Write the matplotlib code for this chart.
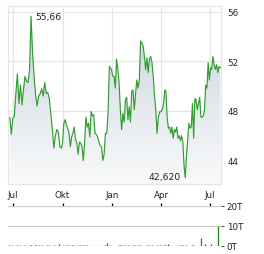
import matplotlib
matplotlib.use("Agg")
import matplotlib.pyplot as plt
import matplotlib.dates as mdates
from matplotlib.colors import LinearSegmentedColormap
import numpy as np
import pandas as pd

# closing prices, one list per quarter
q3_2023 = [47.48, 46.12, 47.4, 47.6, 49.44, 51.0, 48.6, 50.1, 48.5, 49.7, 50.8, 50.4,
           50.3, 51.35, 55.66, 52.7, 50.8, 49.3, 48.4, 49.2, 49.4, 49.8, 49.2, 50.3,
           49.4, 49.5, 49.0, 47.8, 46.5, 45.0, 46.0, 46.5, 46.3, 45.1, 45.0]
q4_2023 = [45.4, 47.0, 47.3, 46.85, 46.6, 46.2, 45.1, 45.9, 46.2, 46.7, 45.7, 45.4,
           44.5, 45.5, 45.4, 45.1, 44.0, 45.5, 47.5, 46.7, 47.0, 45.9, 47.95, 47.6,
           47.7, 46.2, 46.1, 45.9, 45.5, 45.2, 45.1, 44.0, 44.5, 46.2, 46.2, 47.8, 51.6]
q1_2024 = [51.35, 50.8, 50.8, 49.85, 52.2, 51.35, 50.3, 48.1, 46.5, 47.8, 47.1, 48.9,
           49.1, 47.3, 48.35, 47.1, 49.6, 49.7, 48.1, 49.4, 50.5, 49.85, 50.5, 53.65,
           53.5, 53.25, 52.4, 51.35, 52.3, 51.1, 52.2, 52.4, 51.9, 50.8, 49.2, 48.1,
           46.2, 47.5]
q2_2024 = [47.95, 47.95, 48.1, 48.6, 49.7, 49.6, 47.5, 46.6, 46.7, 46.2, 46.7, 45.8,
           46.5, 46.3, 46.7, 45.8, 46.0, 45.6, 46.0, 45.5, 43.6, 42.62, 44.3, 45.6,
           47.0, 46.6, 46.7, 48.6, 45.8, 49.0, 48.9, 48.1, 48.6, 49.1, 47.5, 47.5,
           47.6, 48.1, 50.1, 49.85, 51.9, 50.5, 51.5, 51.35, 52.4, 51.75, 51.35, 51.75,
           51.1, 51.6, 51.5]
quarter_spans = [("2023-06-25", "2023-09-29"), ("2023-10-01", "2023-12-27"),
                 ("2023-12-31", "2024-03-27"), ("2024-03-30", "2024-07-20")]

# volume in thousands (T), g = up day, r = down day
vol_dates = ["2023-06-24", "2023-06-30", "2023-07-08", "2023-07-14", "2023-07-22",
             "2023-08-02", "2023-08-04", "2023-08-10", "2023-08-13", "2023-08-19",
             "2023-08-23", "2023-09-02", "2023-09-06", "2023-09-16", "2023-09-24",
             "2023-10-01", "2023-10-07", "2023-10-12", "2023-10-18", "2023-10-21",
             "2023-10-29", "2023-11-03", "2023-11-08", "2023-11-11", "2023-11-16",
             "2023-12-18", "2023-12-23", "2023-12-28", "2024-01-14", "2024-01-16",
             "2024-01-19", "2024-01-25", "2024-01-31", "2024-02-09", "2024-02-13",
             "2024-02-18", "2024-02-22", "2024-03-06", "2024-03-10", "2024-03-15",
             "2024-03-25", "2024-03-31", "2024-04-06", "2024-04-09", "2024-04-14",
             "2024-05-04", "2024-05-08", "2024-05-11", "2024-05-18", "2024-05-29",
             "2024-05-31", "2024-06-14", "2024-06-21", "2024-07-02", "2024-07-15"]
vol_values = [0.5, 0.4, 0.4, 0.4, 0.5, 0.5, 0.5, 0.5, 0.5, 0.5,
              0.5, 0.5, 0.5, 0.4, 1.2, 0.5, 0.5, 0.5, 0.5, 0.5,
              0.5, 0.5, 0.5, 0.5, 0.5, 0.5, 1.3, 0.5, 0.5, 0.4,
              0.4, 0.5, 0.5, 0.5, 0.5, 0.6, 0.5, 0.5, 0.5, 0.5,
              0.5, 0.5, 0.5, 0.4, 1.0, 0.5, 0.5, 0.5, 0.4, 0.5,
              0.5, 3.9, 0.8, 0.8, 10.0]
vol_dir = ["r", "g", "r", "r", "g", "r", "g", "r", "g", "g",
           "g", "r", "g", "g", "r", "g", "r", "r", "g", "g",
           "r", "r", "g", "g", "g", "g", "g", "r", "g", "r",
           "g", "r", "r", "g", "r", "g", "r", "r", "g", "r",
           "g", "r", "g", "g", "g", "r", "r", "r", "g", "g",
           "g", "g", "r", "r", "g"]

price_ticks = [44, 48, 52, 56]
month_ticks = ["2023-07-01", "2023-10-01", "2024-01-01", "2024-04-01", "2024-07-01"]
month_labels = ["Jul", "Okt", "Jan", "Apr", "Jul"]
max_label = "55,66"
min_label = "42,620"

prices = []
dates = []
for vals, (a, b) in zip([q3_2023, q4_2023, q1_2024, q2_2024], quarter_spans):
    prices += vals
    dates += list(pd.date_range(a, b, periods=len(vals)))
x = mdates.date2num(dates)
prices = np.array(prices)

xlim = (mdates.datestr2num("2023-06-21 16:00"), mdates.datestr2num("2024-07-21 12:00"))
ylim = (42.1, 56.48)

W, H = 264, 255
fig = plt.figure(figsize=(W / 100, H / 100), dpi=100)
ax = fig.add_axes([8 / W, 1 - 185 / H, 213 / W, 178 / H])
vax = fig.add_axes([8 / W, 1 - 247 / H, 213 / W, 40 / H])

grid_c = "#e6e6e6"
text_c = "#222222"

# gradient fill under the line
cmap = LinearSegmentedColormap.from_list("fill", ["#c9d2db", "#f9fafb"])
grad = np.linspace(0, 1, 256).reshape(-1, 1)
poly = ax.fill_between(x, prices, ylim[0], color="none", lw=0)
img = ax.imshow(grad, extent=[xlim[0], xlim[1], ylim[0], ylim[1]], aspect="auto",
                origin="upper", cmap=cmap, zorder=1)
img.set_clip_path(poly.get_paths()[0], transform=ax.transData)
ax.plot(x, prices, color="#339c33", lw=0.85, zorder=3)

ax.set_xlim(xlim)
ax.set_ylim(ylim)
ax.set_yticks(price_ticks)
ax.set_yticklabels([str(t) for t in price_ticks])
ax.yaxis.tick_right()
ax.set_xticks(mdates.datestr2num(month_ticks))
ax.set_xticklabels(month_labels)
ax.tick_params(axis="y", length=0, pad=4.5, labelsize=6.3, labelcolor=text_c)
ax.tick_params(axis="x", length=0, pad=4.5, labelsize=6.3, labelcolor=text_c)
ax.grid(color=grid_c, lw=0.9, zorder=0)
ax.set_axisbelow(True)
for s in ax.spines.values():
    s.set_color(grid_c)
    s.set_linewidth(0.9)

imax = int(np.argmax(prices))
imin = int(np.argmin(prices))
ax.annotate(max_label, (x[imax], prices[imax]), xytext=(3, 0), textcoords="offset points",
            ha="left", va="center", fontsize=6.6, color=text_c)
ax.annotate(min_label, (x[imin], prices[imin]), xytext=(-3, 1), textcoords="offset points",
            ha="right", va="center", fontsize=6.6, color=text_c)

# volume panel
vx = mdates.datestr2num(vol_dates)
vcol = ["#118811" if c == "g" else "#cc1111" for c in vol_dir]
vax.vlines(vx, 0, vol_values, colors=vcol, lw=0.9, zorder=3)
vax.set_xlim(xlim)
vax.set_ylim(0, 20)
vax.set_yticks([0, 10, 20])
vax.set_yticklabels(["0T", "10T", "20T"])
vax.yaxis.tick_right()
vax.tick_params(axis="y", length=2.5, width=0.8, color="#555555", pad=1.5,
                labelsize=6.3, labelcolor=text_c)
vax.xaxis.tick_top()
vax.set_xticks(mdates.datestr2num(month_ticks))
vax.tick_params(axis="x", length=2, width=0.9, color="black", direction="out", labeltop=False)
vax.grid(axis="y", color="#cccccc", lw=0.9, zorder=0)
for s in vax.spines.values():
    s.set_visible(False)

fig.savefig("out.png", dpi=100)
